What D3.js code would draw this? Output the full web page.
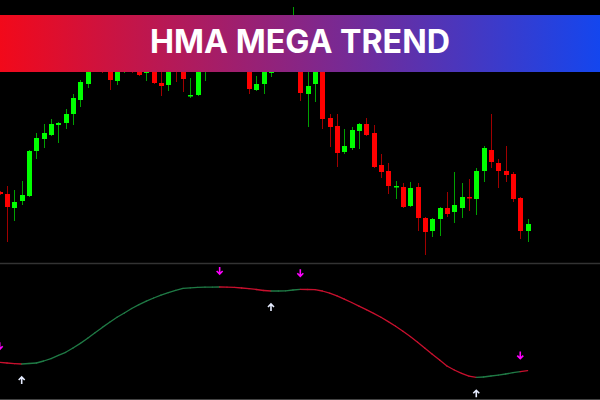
<!DOCTYPE html>
<html>
<head>
<meta charset="utf-8">
<script src="https://cdn.jsdelivr.net/npm/d3@7"></script>
<style>
  html, body { margin: 0; padding: 0; background: #000; }
  svg { display: block; }
</style>
</head>
<body>
<svg id="chart" width="600" height="400"></svg>
<script>
// ---------- DATA ----------
const titleText = "HMA MEGA TREND";

const opens = [1.2408,1.2406,1.2392,1.2399,1.2404,1.2449,1.2461,1.2465,1.2475,1.2477,1.2486,1.2500,1.2516,1.2538,1.2560,1.2550,1.2519,1.2538,1.2550,1.2540,1.2527,1.2542,1.2517,1.2515,1.2538,1.2540,1.2504,1.2505,1.2540,1.2550,1.2565,1.2555,1.2570,1.2580,1.2560,1.2510,1.2516,1.2527,1.2545,1.2535,1.2540,1.2540,1.2506,1.2516,1.2535,1.2482,1.2474,1.2448,1.2452,1.2469,1.2476,1.2467,1.2435,1.2429,1.2413,1.2413,1.2394,1.2413,1.2382,1.2369,1.2381,1.2392,1.2388,1.2392,1.2403,1.2401,1.2429,1.2450,1.2437,1.2429,1.2426,1.2402,1.2369];
const highs = [1.2409,1.2414,1.2410,1.2419,1.2450,1.2467,1.2476,1.2481,1.2478,1.2491,1.2506,1.2520,1.2545,1.2560,1.2565,1.2555,1.2548,1.2555,1.2556,1.2545,1.2550,1.2548,1.2530,1.2540,1.2542,1.2545,1.2522,1.2555,1.2560,1.2570,1.2572,1.2578,1.2584,1.2582,1.2565,1.2524,1.2550,1.2550,1.2555,1.2555,1.2593,1.2545,1.2530,1.2540,1.2540,1.2486,1.2486,1.2471,1.2473,1.2477,1.2482,1.2475,1.2446,1.2437,1.2419,1.2417,1.2418,1.2417,1.2383,1.2382,1.2393,1.2408,1.2428,1.2417,1.2421,1.2432,1.2454,1.2486,1.2441,1.2454,1.2428,1.2403,1.2381];
const lows = [1.2405,1.2358,1.2379,1.2395,1.2403,1.2441,1.2452,1.2464,1.2457,1.2471,1.2475,1.2493,1.2512,1.2532,1.2527,1.2510,1.2515,1.2527,1.2527,1.2524,1.2519,1.2516,1.2504,1.2509,1.2518,1.2508,1.2502,1.2504,1.2519,1.2540,1.2545,1.2548,1.2560,1.2555,1.2506,1.2509,1.2506,1.2523,1.2530,1.2530,1.2530,1.2499,1.2473,1.2498,1.2471,1.2453,1.2433,1.2446,1.2450,1.2451,1.2464,1.2432,1.2422,1.2406,1.2401,1.2392,1.2393,1.2369,1.2345,1.2363,1.2364,1.2383,1.2377,1.2382,1.2389,1.2385,1.2418,1.2432,1.2412,1.2418,1.2398,1.2361,1.2358];
const closes = [1.2406,1.2393,1.2398,1.2405,1.2449,1.2462,1.2467,1.2476,1.2477,1.2486,1.2502,1.2518,1.2540,1.2555,1.2545,1.2520,1.2540,1.2550,1.2535,1.2525,1.2542,1.2517,1.2514,1.2535,1.2530,1.2521,1.2505,1.2550,1.2555,1.2565,1.2555,1.2572,1.2580,1.2565,1.2511,1.2516,1.2545,1.2545,1.2535,1.2550,1.2580,1.2507,1.2514,1.2535,1.2481,1.2473,1.2447,1.2454,1.2470,1.2476,1.2465,1.2433,1.2428,1.2414,1.2414,1.2393,1.2412,1.2382,1.2368,1.2381,1.2392,1.2386,1.2395,1.2403,1.2402,1.2429,1.2452,1.2438,1.2429,1.2425,1.2401,1.2369,1.2376];

// HMA indicator (separate window)
const hmaValues = [37.7,37.0,36.4,36.0,36.5,37.0,39.0,41.4,44.6,47.7,52.0,56.6,61.8,67.2,72.6,77.8,82.7,87.0,91.5,95.3,98.9,102.0,104.8,107.4,109.6,111.7,112.1,112.6,112.8,112.9,113.0,112.8,112.6,112.0,111.4,110.5,109.5,109.0,109.0,109.2,110.0,110.7,110.5,110.3,109.0,106.9,104.2,100.9,97.5,93.9,90.3,86.6,82.7,78.4,73.8,68.8,63.4,57.8,51.7,45.8,40.0,34.0,30.0,26.6,23.9,22.7,23.0,24.0,24.8,26.0,27.3,28.4,29.3];
const hmaTrend = [-1,-1,-1,1,1,1,1,1,1,1,1,1,1,1,1,1,1,1,1,1,1,1,1,1,1,1,1,1,1,1,-1,-1,-1,-1,-1,-1,-1,1,1,1,1,-1,-1,-1,-1,-1,-1,-1,-1,-1,-1,-1,-1,-1,-1,-1,-1,-1,-1,-1,-1,-1,-1,-1,-1,1,1,1,1,1,1,-1,-1];
const sellSignals = [0, 30, 41, 71];
const buySignals = [3, 37, 65];

// ---------- LAYOUT ----------
const W = 600, H = 400;
const svg = d3.select("#chart");
svg.append("rect").attr("width", W).attr("height", H).attr("fill", "#000");

const n = closes.length;
const x = d3.scaleLinear().domain([0, n - 1]).range([-0.3, 527.6]);
const yPrice = d3.scaleLinear().domain([1.2340, 1.2600]).range([260, 0]);
const yInd = d3.scaleLinear().domain([2, 135]).range([398, 265]);

const candles = d3.range(n).map(i => ({
  i, o: opens[i], h: highs[i], l: lows[i], c: closes[i], up: closes[i] >= opens[i]
}));

// main panel
const main = svg.append("g");
main.selectAll("line.wick").data(candles).join("line")
  .attr("class", "wick")
  .attr("x1", d => Math.round(x(d.i)) + 0.5)
  .attr("x2", d => Math.round(x(d.i)) + 0.5)
  .attr("y1", d => yPrice(d.h))
  .attr("y2", d => yPrice(d.l))
  .attr("stroke", d => d.up ? "#00a000" : "#a00000")
  .attr("stroke-width", 1);

main.selectAll("rect.body").data(candles).join("rect")
  .attr("class", "body")
  .attr("x", d => Math.round(x(d.i)) - 2)
  .attr("width", 5)
  .attr("y", d => Math.min(yPrice(d.o), yPrice(d.c)))
  .attr("height", d => Math.max(1.5, Math.abs(yPrice(d.o) - yPrice(d.c))))
  .attr("fill", d => d.up ? "#00ff00" : "#ff0000");

// separator
svg.append("line").attr("x1", 0).attr("x2", W).attr("y1", 263.5).attr("y2", 263.5)
  .attr("stroke", "#333").attr("stroke-width", 1.5);
svg.append("line").attr("x1", 0).attr("x2", W).attr("y1", 399.5).attr("y2", 399.5)
  .attr("stroke", "#444").attr("stroke-width", 1);

// indicator line segments
const ind = svg.append("g");
const segs = d3.range(n - 1).map(i => ({ i, up: hmaTrend[i] > 0 }));
ind.selectAll("line.seg").data(segs).join("line")
  .attr("x1", d => x(d.i)).attr("y1", d => yInd(hmaValues[d.i]))
  .attr("x2", d => x(d.i + 1)).attr("y2", d => yInd(hmaValues[d.i + 1]))
  .attr("stroke", d => d.up ? "#1f7a45" : "#c8102e")
  .attr("stroke-width", 1.3)
  .attr("stroke-linecap", "round");

function arrowPath(cx, cy, down) {
  const s = down ? 1 : -1;
  return `M${cx},${cy - 4 * s} L${cx},${cy + 3 * s} M${cx - 3},${cy} L${cx},${cy + 3 * s} L${cx + 3},${cy}`;
}
ind.selectAll("path.sell").data(sellSignals).join("path")
  .attr("d", i => arrowPath(x(i), yInd(hmaValues[i]) - 16, true))
  .attr("fill", "none").attr("stroke", "#ff00ff").attr("stroke-width", 1.6);
ind.selectAll("path.buy").data(buySignals).join("path")
  .attr("d", i => arrowPath(x(i), yInd(hmaValues[i]) + 16, false))
  .attr("fill", "none").attr("stroke", "#e6ecff").attr("stroke-width", 1.6);

// banner
const defs = svg.append("defs");
const grad = defs.append("linearGradient").attr("id", "bannerGrad")
  .attr("x1", "0%").attr("x2", "100%").attr("y1", "0%").attr("y2", "0%");
grad.append("stop").attr("offset", "0%").attr("stop-color", "#f2091a");
grad.append("stop").attr("offset", "50%").attr("stop-color", "#882585");
grad.append("stop").attr("offset", "100%").attr("stop-color", "#1446ee");
svg.append("rect").attr("x", 0).attr("y", 15).attr("width", W).attr("height", 57)
  .attr("fill", "url(#bannerGrad)");
const title = svg.append("text")
  .attr("x", 300).attr("y", 53)
  .attr("text-anchor", "middle")
  .attr("fill", "#fff")
  .attr("font-family", "Inter, 'Open Sans', sans-serif")
  .attr("font-weight", 700)
  .attr("font-size", 34)
  .text(titleText);
const tl = title.node().getComputedTextLength();
if (tl > 0) title.attr("font-size", 34 * 300 / tl);
</script>
</body>
</html>
